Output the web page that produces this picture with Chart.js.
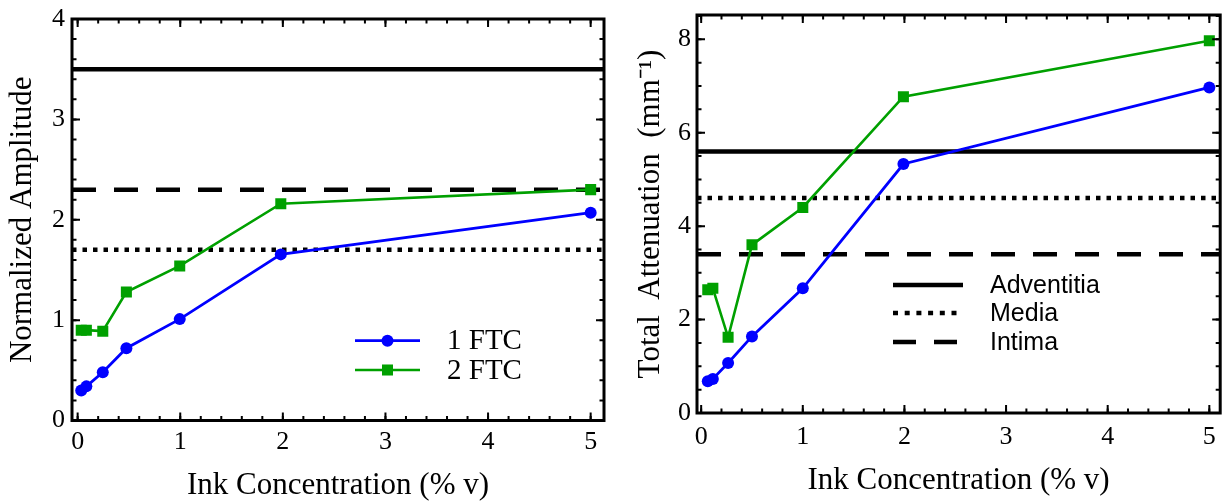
<!DOCTYPE html>
<html><head><meta charset="utf-8">
<script src="https://cdn.jsdelivr.net/npm/chart.js@4"></script>
<style>
html,body{margin:0;padding:0;background:#fff;}
#wrap{position:relative;width:1225px;height:504px;overflow:hidden;}
canvas{position:absolute;top:0;}
</style></head><body>
<div id="wrap">
<canvas id="amp" width="612" height="504" style="left:0"></canvas>
<canvas id="att" width="616" height="504" style="left:612px"></canvas>
</div>
<script>
// ---------- data ----------
const seriesNames = ['1 FTC', '2 FTC'];
const layerNames = ['Adventitia', 'Media', 'Intima'];

// left panel: normalized amplitude
const ampConc = [0.035, 0.085, 0.245, 0.475, 0.995, 1.98, 5];
const amp1FTC = [0.30, 0.34, 0.48, 0.72, 1.01, 1.655, 2.07];
const amp2FTC = [0.90, 0.90, 0.89, 1.28, 1.54, 2.16, 2.30];
const ampLayers = [3.5, 1.7, 2.3];   // Adventitia, Media, Intima

// right panel: total attenuation
const attConc = [0.065, 0.115, 0.265, 0.5, 1.0, 1.99, 5];
const att1FTC = [0.68, 0.73, 1.07, 1.64, 2.67, 5.33, 6.97];
const att2FTC = [2.64, 2.67, 1.62, 3.60, 4.40, 6.77, 7.97];
const attLayers = [5.6, 4.6, 3.4];   // Adventitia, Media, Intima

// tick labels
const xTicks = [0, 1, 2, 3, 4, 5];
const ampYTicks = [0, 1, 2, 3, 4];
const attYTicks = [0, 2, 4, 6, 8];

// ---------- styles ----------
const BLUE = '#0000ff', GREEN = '#00a000';
const SERIF = '"Liberation Serif", "Times New Roman", serif';
const SANS = '"Liberation Sans", Arial, sans-serif';
const layerStyles = [
  {borderDash: [], borderWidth: 4.5},
  {borderDash: [4.5, 6], borderWidth: 4.5},
  {borderDash: [24, 18], borderWidth: 4.5}
];

function seriesDatasets(conc, s1, s2) {
  return [
    {label: seriesNames[0], data: conc.map((c, i) => ({x: c, y: s1[i]})),
     borderColor: BLUE, backgroundColor: BLUE, borderWidth: 2.8,
     pointStyle: 'circle', pointRadius: 6, pointBorderWidth: 0, order: 1},
    {label: seriesNames[1], data: conc.map((c, i) => ({x: c, y: s2[i]})),
     borderColor: GREEN, backgroundColor: GREEN, borderWidth: 2.6,
     pointStyle: 'rect', pointRadius: 7.8, pointBorderWidth: 0, order: 1}
  ];
}
function layerDatasets(vals, xmin, xmax) {
  return vals.map((v, i) => ({
    label: layerNames[i], data: [{x: xmin, y: v}, {x: xmax, y: v}],
    borderColor: '#000', borderWidth: layerStyles[i].borderWidth,
    borderDash: layerStyles[i].borderDash, borderCapStyle: 'butt',
    pointRadius: 0, order: 2
  }));
}

const framePlugin = {
  id: 'frame',
  afterDraw(chart, args, o) {
    const {ctx, chartArea: a, scales: {x, y}} = chart;
    ctx.save();
    ctx.strokeStyle = '#000';
    ctx.lineWidth = 2;
    const tickX = (v, len) => {
      const p = x.getPixelForValue(v);
      ctx.beginPath();
      ctx.moveTo(p, a.bottom); ctx.lineTo(p, a.bottom - len);
      ctx.moveTo(p, a.top); ctx.lineTo(p, a.top + len);
      ctx.stroke();
    };
    const tickY = (v, len) => {
      const p = y.getPixelForValue(v);
      ctx.beginPath();
      ctx.moveTo(a.left, p); ctx.lineTo(a.left + len, p);
      ctx.moveTo(a.right, p); ctx.lineTo(a.right - len, p);
      ctx.stroke();
    };
    for (let v = 0; v <= x.max + 1e-9; v += o.xMinor) tickX(v, 4.5);
    xTicks.forEach(v => tickX(v, 8));
    for (let v = 0; v <= y.max + 1e-9; v += o.yMinor) tickY(v, 4.5);
    o.yMajor.forEach(v => tickY(v, 8));
    ctx.lineWidth = 3;
    ctx.strokeRect(a.left, a.top, a.right - a.left, a.bottom - a.top);
    ctx.restore();
  }
};

const legendPlugin = {
  id: 'customLegend',
  afterDraw(chart, args, o) {
    const ctx = chart.ctx;
    ctx.save();
    o.items.forEach((it, i) => {
      const ds = chart.data.datasets[it.ds];
      const yy = o.y[i];
      ctx.strokeStyle = ds.borderColor;
      ctx.lineWidth = it.lw || ds.borderWidth;
      ctx.setLineDash(it.dash || ds.borderDash || []);
      ctx.lineCap = 'butt';
      ctx.beginPath(); ctx.moveTo(o.x0, yy); ctx.lineTo(o.x1, yy); ctx.stroke();
      ctx.setLineDash([]);
      if (ds.pointRadius) {
        ctx.fillStyle = ds.backgroundColor;
        Chart.helpers.drawPoint(ctx, {pointStyle: ds.pointStyle, radius: ds.pointRadius * (o.markerScale || 1), rotation: 0, borderWidth: 0}, (o.x0 + o.x1) / 2, yy);
      }
      ctx.fillStyle = '#000';
      ctx.font = o.font;
      ctx.textBaseline = 'middle';
      ctx.textAlign = 'left';
      ctx.fillText(ds.label, o.tx, yy + (o.dy || 0));
    });
    ctx.restore();
  }
};

function makeChart(id, cfg) {
  const datasets = seriesDatasets(cfg.conc, cfg.s1, cfg.s2)
    .concat(layerDatasets(cfg.layers, cfg.xmin, cfg.xmax));
  return new Chart(document.getElementById(id), {
    type: 'line',
    data: {datasets},
    plugins: [framePlugin, legendPlugin],
    options: {
      responsive: false, animation: false,
      layout: {padding: cfg.pad},
      plugins: {
        legend: {display: false}, tooltip: {enabled: false},
        frame: {xMinor: 0.2, yMinor: cfg.yMinor, yMajor: cfg.yTicks},
        customLegend: cfg.legend
      },
      scales: {
        x: {
          type: 'linear', min: cfg.xmin, max: cfg.xmax,
          grid: {display: false, drawTicks: false}, border: {display: false},
          afterBuildTicks: s => { s.ticks = xTicks.map(v => ({value: v})); },
          afterFit: s => { s.height = cfg.xH; s.paddingLeft = 0; s.paddingRight = 0; },
          ticks: {color: '#000', font: {family: SERIF, size: 26}, padding: cfg.xTickPad, maxRotation: 0, autoSkip: false},
          title: {display: true, text: 'Ink Concentration (% v)', color: '#000',
                  font: {family: SERIF, size: 31, lineHeight: 1}, padding: {top: 0, bottom: cfg.xTitlePad}}
        },
        y: {
          type: 'linear', min: 0, max: cfg.ymax,
          grid: {display: false, drawTicks: false}, border: {display: false},
          afterBuildTicks: s => { s.ticks = cfg.yTicks.map(v => ({value: v})); },
          afterFit: s => { s.width = cfg.yW; s.paddingTop = 0; s.paddingBottom = 0; },
          ticks: {color: '#000', font: {family: SERIF, size: 26}, padding: cfg.yTickPad},
          title: {display: true, text: cfg.yTitle, color: '#000',
                  font: {family: SERIF, size: 31, lineHeight: 1}, padding: {top: cfg.yTitlePad, bottom: 0}}
        }
      }
    }
  });
}

makeChart('amp', {
  conc: ampConc, s1: amp1FTC, s2: amp2FTC, layers: ampLayers,
  xmin: -0.055, xmax: 5.13, ymax: 4, yTicks: ampYTicks, yMinor: 0.2,
  pad: {left: 0, top: 19, right: 8, bottom: 0}, xH: 83.5, yW: 72,
  xTickPad: 6, xTitlePad: 3, yTitlePad: 7, yTickPad: 7,
  yTitle: 'Normalized Amplitude',
  legend: {items: [{ds: 0}, {ds: 1}], x0: 355, x1: 420, tx: 447, y: [340.7, 370],
           font: '29px ' + SERIF, dy: 1, markerScale: 1}
});

makeChart('att', {
  conc: attConc, s1: att1FTC, s2: att2FTC, layers: attLayers,
  xmin: -0.041, xmax: 5.107, ymax: 8.52, yTicks: attYTicks, yMinor: 0.5,
  pad: {left: 0, top: 15, right: 2, bottom: 0}, xH: 91, yW: 85,
  xTickPad: 9, xTitlePad: 8, yTitlePad: 23, yTickPad: 6,
  yTitle: 'Total  Attenuation  (mm\u207B\u00B9)',
  legend: {items: [{ds: 2}, {ds: 3, dash: [5, 6.7]}, {ds: 4, dash: [23, 18]}], x0: 281, x1: 351, tx: 378, y: [285, 313, 342],
           font: '25px ' + SANS, dy: 1}
});
</script>
</body></html>
